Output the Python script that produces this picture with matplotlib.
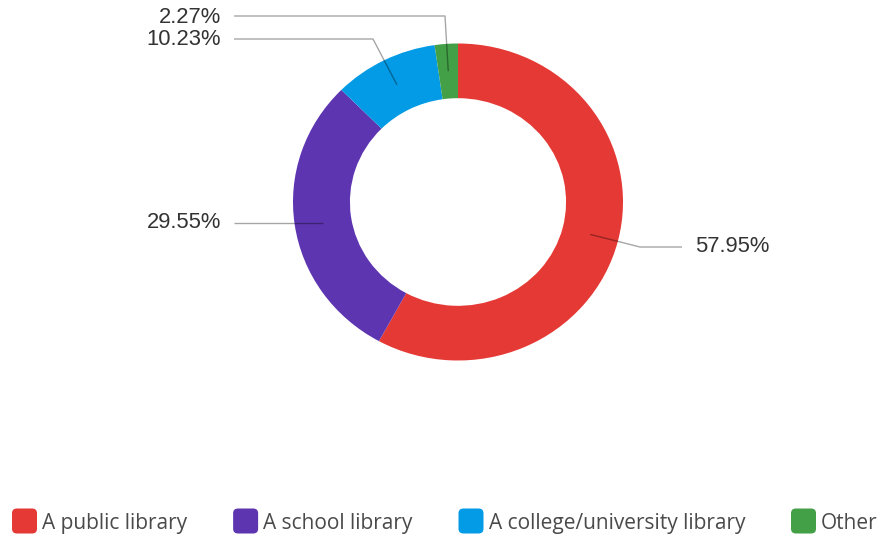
import numpy as np
import matplotlib.pyplot as plt
from matplotlib.patches import FancyBboxPatch

# datos
categorias = ['A public library', 'A school library', 'A college/university library', 'Other']
porcentajes = [57.95, 29.55, 10.23, 2.27]
colores = ['#E53935', '#5E35B1', '#039BE5', '#43A047']

W, H = 884, 537
fig = plt.figure(figsize=(W / 100, H / 100), dpi=100)
ax = fig.add_axes([0, 0, 1, 1])

# centro y radios del anillo en pixeles (el original es un poco ovalado)
cx, cy = 458, 202
rx, ry = 165, 158.5
ancho = 0.345

def px(x, y):
    # pixeles de la imagen -> coordenadas de datos
    return (x - cx) / rx, (cy - y) / ry

wedges, _ = ax.pie(porcentajes, colors=colores, startangle=90, counterclock=False,
                   radius=1, center=(0, 0), frame=True,
                   wedgeprops=dict(width=ancho, linewidth=0))

ax.set_xlim(-cx / rx, (W - cx) / rx)
ax.set_ylim(-(H - cy) / ry, cy / ry)
ax.set_aspect('auto')
ax.axis('off')

# posiciones de las etiquetas: codo de la linea, final de la linea, texto
codos = [(640, 247), None, (373, 39), (445, 16)]
finales = [(682, 247), (234, 223), (234, 39), (234, 16)]
textos = [(695, 247, 'left'), (221, 223, 'right'), (221, 40, 'right'), (221, 18, 'right')]

r_medio = 1 - ancho / 2
for w, v, codo, fin, (tx, ty, ha) in zip(wedges, porcentajes, codos, finales, textos):
    ang = np.deg2rad((w.theta1 + w.theta2) / 2)
    x0, y0 = r_medio * np.cos(ang), r_medio * np.sin(ang)
    xf, yf = px(*fin)
    xs, ys = [x0], [y0]
    if codo is not None:
        xc, yc = px(*codo)
        xs.append(xc); ys.append(yc)
    else:
        ys[0] = yf
    xs.append(xf); ys.append(yf)
    ax.plot(xs, ys, color='black', alpha=0.35, lw=1, solid_capstyle='butt')
    ax.text(*px(tx, ty), f'{v:.2f}%', ha=ha, va='center', fontsize=15.8,
            family='Liberation Sans', color='#333333')

# leyenda manual
fig.canvas.draw()
rend = fig.canvas.get_renderer()
xl = 12
lado = 25
for cat, col in zip(categorias, colores):
    x0, y0 = px(xl, 521 + lado / 2)
    ax.add_patch(FancyBboxPatch((x0, y0), lado / rx, lado / ry,
                                boxstyle='round,pad=0,rounding_size=0.03',
                                fc=col, ec='none'))
    t = ax.text(*px(xl + lado + 5, 521), cat, ha='left', va='center_baseline',
                fontsize=15, family='Open Sans', color='#4a4a4a')
    bb = t.get_window_extent(rend)
    xl = bb.x1 + 46

fig.savefig('out.png', dpi=100)
